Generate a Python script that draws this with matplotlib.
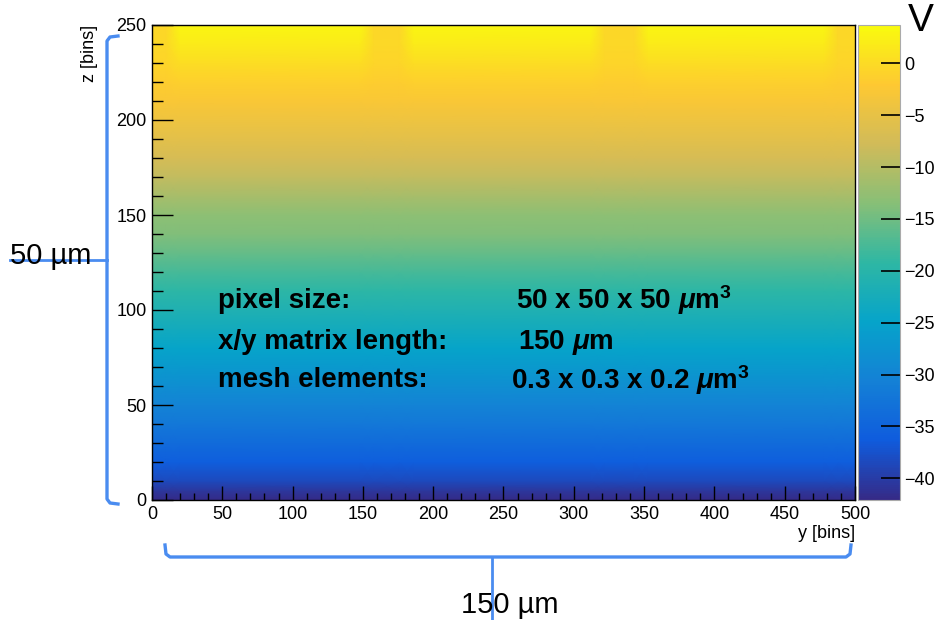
import numpy as np
import matplotlib
matplotlib.use("Agg")
import matplotlib.pyplot as plt
from matplotlib.colors import LinearSegmentedColormap
from matplotlib.lines import Line2D
from matplotlib.ticker import MultipleLocator

plt.rcParams['font.family'] = ['Liberation Sans', 'DejaVu Sans']
plt.rcParams['mathtext.fontset'] = 'custom'
plt.rcParams['mathtext.rm'] = 'Liberation Sans:bold'
plt.rcParams['mathtext.it'] = 'Liberation Sans:italic:bold'
plt.rcParams['mathtext.bf'] = 'Liberation Sans:bold'

# potential profile along depth z (bins)
z_nodes = [0, 5, 10, 20, 30, 40, 50, 60, 70, 80, 90, 100, 110, 120, 130,
           140, 150, 160, 170, 180, 190, 200, 210, 220, 230, 240, 250]
v_profile = [-42.0, -40.5, -38.5, -36.0, -34.0, -32.0, -30.2, -28.4, -26.6,
             -24.8, -23.0, -21.2, -19.4, -17.6, -15.8, -14.0, -13.0, -11.0,
             -9.0, -7.2, -5.5, -4.0, -2.6, -1.2, 0.3, 1.8, 3.0]
# how strongly the implant columns show at each depth
implant_weight = [0, 0, 0, 0, 0, 0, 0, 0, 0, 0, 0, 0, 0, 0, 0,
                  0, 0, 0, 0, 0, 0, 0, 0, 0.1, 0.3, 0.6, 1.0]

# lateral position y (bins) and potential offset of the implant columns at the top
y_nodes = [0, 10, 20, 148, 158, 176, 186, 312, 322, 343, 353, 478, 488, 500]
top_offset = [-3.5, -3.5, 0, 0, -3.5, -3.5, 0, 0, -3.5, -3.5, 0, 0, -3.5, -3.5]

info_labels = ['pixel size:', 'x/y matrix length:', 'mesh elements:']
info_values = [r'50 x 50 x 50 $\mu$m$^{3}$', r'150 $\mu$m',
               r'0.3 x 0.3 x 0.2 $\mu$m$^{3}$']

bird = LinearSegmentedColormap.from_list('bird', list(zip(
    [0.0, 0.125, 0.25, 0.375, 0.5, 0.625, 0.75, 0.875, 1.0],
    zip([0.2082, 0.0592, 0.0780, 0.0232, 0.1802, 0.5301, 0.8186, 0.9956, 0.9764],
        [0.1664, 0.3599, 0.5041, 0.6419, 0.7178, 0.7492, 0.7328, 0.7862, 0.9832],
        [0.5293, 0.8684, 0.8385, 0.7914, 0.6425, 0.4662, 0.3499, 0.1968, 0.0539]))))

W, H = 937, 620
fig = plt.figure(figsize=(W / 100, H / 100), dpi=100)


def fx(px):
    return px / W


def fy(py):
    return 1 - py / H


ax = fig.add_axes([fx(152), fy(500), fx(855) - fx(152), fy(25) - fy(500)])
cax = fig.add_axes([fx(858), fy(500), fx(900) - fx(858), fy(25) - fy(500)])

Y, Z = np.meshgrid(y_nodes, z_nodes)
V = np.array(v_profile)[:, None] + np.array(implant_weight)[:, None] * np.array(top_offset)[None, :]
mesh = ax.pcolormesh(Y, Z, V, cmap=bird, vmin=-42.1, vmax=3.7, shading='gouraud')

ax.set_xlim(0, 500)
ax.set_ylim(0, 250)
ax.xaxis.set_major_locator(MultipleLocator(50))
ax.xaxis.set_minor_locator(MultipleLocator(10))
ax.yaxis.set_major_locator(MultipleLocator(50))
ax.yaxis.set_minor_locator(MultipleLocator(10))
ax.tick_params(axis='x', which='major', direction='in', length=10, width=1, labelsize=13, pad=4)
ax.tick_params(axis='x', which='minor', direction='in', length=5, width=1)
ax.tick_params(axis='y', which='major', direction='in', length=15, width=1, labelsize=13, pad=4)
ax.tick_params(axis='y', which='minor', direction='in', length=8, width=1)
for s in ax.spines.values():
    s.set_linewidth(1)

fig.text(fx(855), fy(533), 'y [bins]', ha='right', va='center', fontsize=13)
fig.text(fx(90), fy(25), 'z [bins]', ha='center', va='top', rotation=90, fontsize=13)

cb = fig.colorbar(mesh, cax=cax)
cb.set_ticks(np.arange(-40, 1, 5))
cb.outline.set_edgecolor('#aaaaaa')
cb.outline.set_linewidth(0.8)
cax.yaxis.set_ticks_position('right')
cax.tick_params(direction='in', length=14, width=1.2, labelsize=13, pad=3)
fig.text(fx(921), fy(21), 'V', ha='center', va='center', fontsize=28)

rows_z = [105, 83, 63]
values_y = [259, 260, 255]
for lab, val, zz, yy in zip(info_labels, info_values, rows_z, values_y):
    ax.text(47, zz, lab, fontsize=20, fontweight='bold', va='center', ha='left')
    ax.text(yy, zz, val, fontsize=20, fontweight='bold', va='center', ha='left')

blue = '#4a8cf0'
left = [(118, 36), (110, 37), (107, 41), (107, 499), (110, 503), (118, 504)]
fig.add_artist(Line2D([fx(p[0]) for p in left], [fy(p[1]) for p in left],
                      color=blue, lw=2.4, solid_joinstyle='round'))
fig.add_artist(Line2D([fx(10), fx(107)], [fy(260), fy(260)], color=blue, lw=2))
bottom = [(165, 545), (166, 554), (170, 557), (846, 557), (850, 554), (851, 545)]
fig.add_artist(Line2D([fx(p[0]) for p in bottom], [fy(p[1]) for p in bottom],
                      color=blue, lw=2.4, solid_joinstyle='round'))
fig.add_artist(Line2D([fx(492), fx(492)], [fy(557), fy(620)], color=blue, lw=2))

fig.text(fx(10), fy(256), '50 µm', ha='left', va='center', fontsize=21)
fig.text(fx(510), fy(605), '150 µm', ha='center', va='center', fontsize=21)

fig.savefig('out.png', dpi=100)
